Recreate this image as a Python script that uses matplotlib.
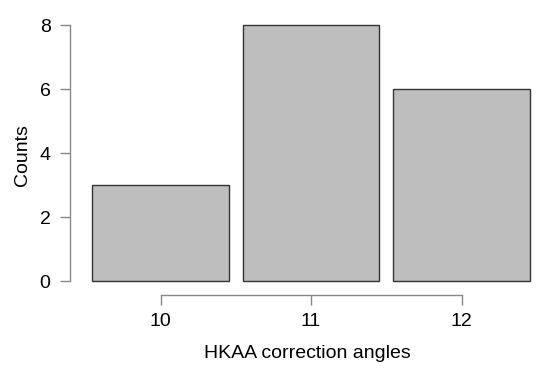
import matplotlib
matplotlib.use("Agg")
import matplotlib.pyplot as plt

# data
angles = ["10", "11", "12"]
counts = [3, 8, 6]

plt.rcParams['font.family'] = ['Liberation Sans', 'DejaVu Sans']

W, H = 550, 374
fig = plt.figure(figsize=(W / 100, H / 100), dpi=100)
# axes box in pixels: left 70, right 545, top 15, bottom 295
ax = fig.add_axes([70 / W, (H - 295) / H, (545 - 70) / W, (295 - 15) / H])

pos = [i * 1.1 for i in range(len(counts))]
ax.bar(pos, counts, width=1.0, color="#bebebe", edgecolor="#333333", linewidth=1.0)

ax.set_xlim(-0.5 - 22 / 136, 2.7 + 15 / 136)
ax.set_ylim((281 - 295) / 32, (281 - 15) / 32)

for s in ["top", "right"]:
    ax.spines[s].set_visible(False)
ax.spines["left"].set_bounds(0, 8)
ax.spines["bottom"].set_bounds(pos[0], pos[-1])
for s in ["left", "bottom"]:
    ax.spines[s].set_color("#888888")
    ax.spines[s].set_linewidth(1.0)

ax.set_yticks([0, 2, 4, 6, 8])
ax.set_xticks(pos)
ax.set_xticklabels(angles)
ax.tick_params(axis="both", colors="#888888", labelcolor="black", labelsize=14,
               length=7, width=1.0)
ax.tick_params(axis="x", pad=6)
ax.tick_params(axis="y", pad=7)

ax.set_xlabel("HKAA correction angles", fontsize=14, labelpad=11)
ax.set_ylabel("Counts", fontsize=14, labelpad=6)

fig.savefig("out.png", dpi=100)
